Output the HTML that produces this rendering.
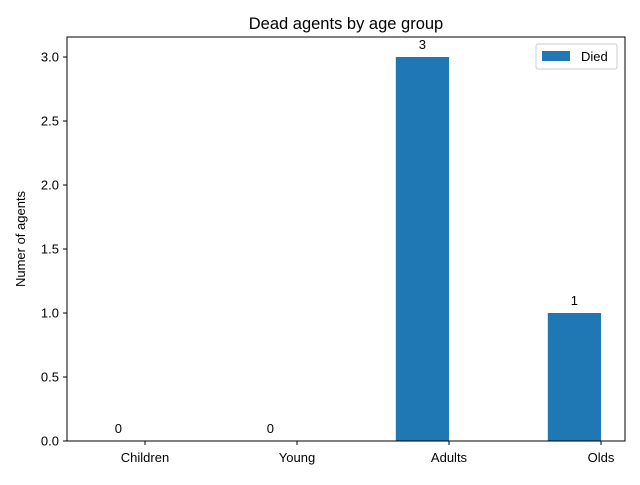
<!DOCTYPE html>
<html><head><meta charset="utf-8"><style>
body{margin:0;background:#fff;}
svg{font-family:"Liberation Sans","DejaVu Sans",sans-serif;}
</style></head><body>
<svg id="chart" width="640" height="480">
<rect width="640" height="480" fill="#fff"/>
<text x="346" y="29" font-size="16.5" text-anchor="middle" fill="#000">Dead agents by age group</text>
<text transform="translate(25,239) rotate(-90)" font-size="13" text-anchor="middle" fill="#000">Numer of agents</text>
<g id="marks"></g>
<rect x="67" y="37" width="558" height="404" fill="none" stroke="#000" stroke-width="1"/>
<g>
<rect x="536" y="44" width="81" height="25" rx="2" fill="#fff" stroke="#ccc"/>
<rect x="542" y="51" width="28" height="10" fill="#1f77b4"/>
<text x="581" y="61" font-size="13" fill="#000">Died</text>
</g>
</svg>
<script>
const categories=["Children","Young","Adults","Olds"];
const died=[0,0,3,1];
const yTicks=[0,0.5,1.0,1.5,2.0,2.5,3.0];
const yTickLabels=["0.0","0.5","1.0","1.5","2.0","2.5","3.0"];
const barWidth=0.35;
const NS="http://www.w3.org/2000/svg";
const g=document.getElementById('marks');
const xS=v=>145+(v)*152;
const yS=v=>441-v*128;
function mk(t,a){const e=document.createElementNS(NS,t);for(const k in a)e.setAttribute(k,a[k]);return e;}
yTicks.forEach((t,i)=>{
 const l=mk('line',{x1:63,x2:67,y1:yS(t),y2:yS(t),stroke:'#000'});
 
 
 g.appendChild(l);
 const tx=mk('text',{x:59,y:yS(t)+4.5,'font-size':13,'text-anchor':'end'});
 tx.textContent=yTickLabels[i];
 
 
 g.appendChild(tx);
});
categories.forEach((c,i)=>{
 const l=mk('line',{x1:xS(i),x2:xS(i),y1:441,y2:445,stroke:'#000'});
 
 
 g.appendChild(l);
 const tx=mk('text',{x:xS(i),y:462,'font-size':13,'text-anchor':'middle'});
 tx.textContent=c;
 
 
 g.appendChild(tx);
 const v=died[i];
 const x0=xS(i-barWidth), x1=xS(i);
 const r=mk('rect',{x:x0,y:yS(v),width:x1-x0,height:yS(0)-yS(v),fill:'#1f77b4'});
 
 
 g.appendChild(r);
 const vl=mk('text',{x:(x0+x1)/2,y:yS(v)-8,'font-size':13,'text-anchor':'middle'});
 vl.textContent=String(v);
 
 
 g.appendChild(vl);
});
</script>
</body></html>
